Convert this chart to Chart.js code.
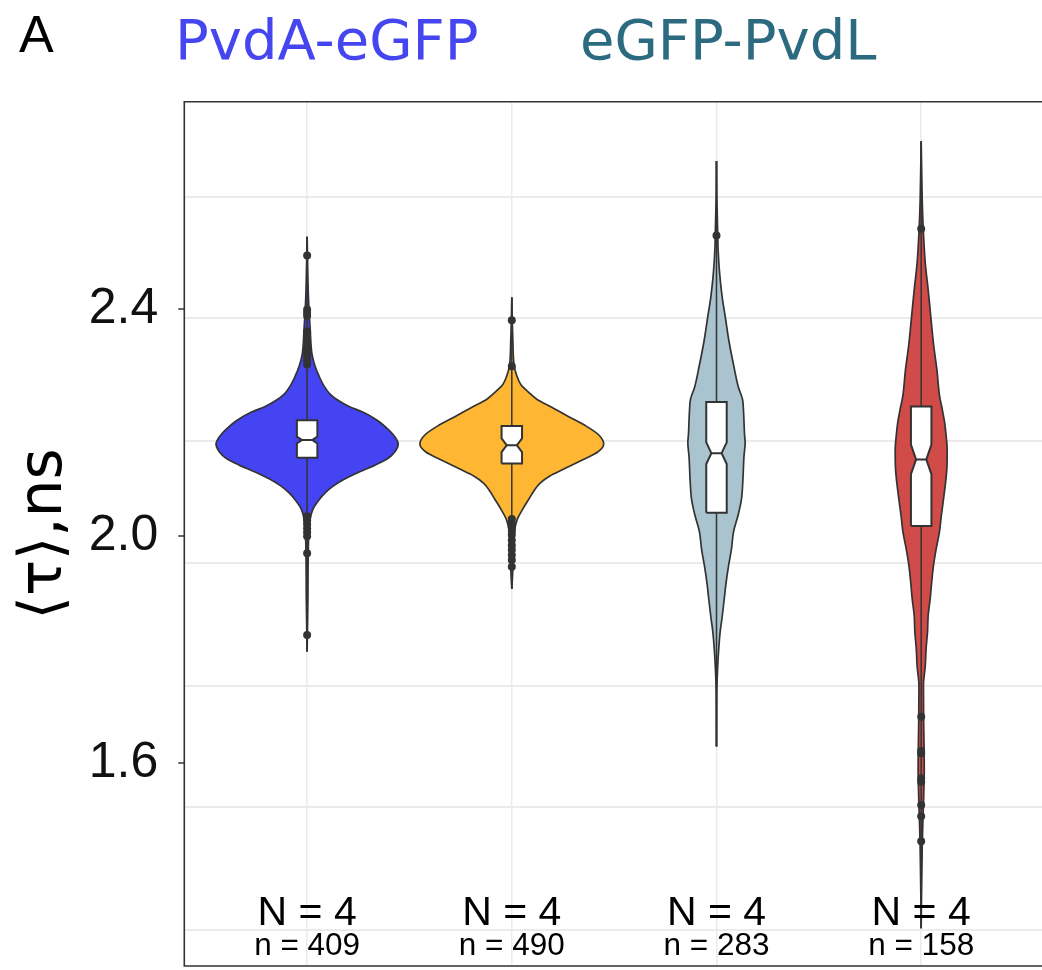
<!DOCTYPE html>
<html>
<head>
<meta charset="utf-8">
<script src="https://cdn.jsdelivr.net/npm/chart.js@4.4.1/dist/chart.umd.min.js"></script>
<style>
  html, body { margin: 0; padding: 0; background: #fff; overflow: hidden; }
  canvas { display: block; }
</style>
</head>
<body>
<canvas id="chart" width="1048" height="970"></canvas>
<script>
// groups on the x axis, left to right
const groups = ['PvdA-eGFP A', 'PvdA-eGFP B', 'eGFP-PvdL A', 'eGFP-PvdL B'];
const fillColors = ['#4444F2', '#FFB733', '#A9C4CE', '#D14B48'];
const groupN = ['N = 4', 'N = 4', 'N = 4', 'N = 4'];
const cellN = ['n = 409', 'n = 490', 'n = 283', 'n = 158'];

// y axis: labelled ticks and the (offset) grid lines
const tickLabels = [1.6, 2.0, 2.4];
const gridValues = [1.307, 1.523, 1.737, 1.953, 2.167, 2.383, 2.597];

// violin outlines: y levels (ns) and half widths (x units)
const v1Y = [1.797, 1.890, 1.995, 2.030, 2.048, 2.062, 2.076, 2.088, 2.100, 2.113, 2.125, 2.137, 2.149, 2.162, 2.174, 2.186, 2.204, 2.218, 2.228, 2.239, 2.250, 2.264, 2.281, 2.299, 2.320, 2.364, 2.416, 2.527];
const v1W = [0, 0.004, 0.007, 0.015, 0.029, 0.054, 0.088, 0.127, 0.181, 0.254, 0.332, 0.396, 0.430, 0.445, 0.430, 0.401, 0.342, 0.274, 0.205, 0.151, 0.112, 0.083, 0.059, 0.039, 0.024, 0.015, 0.007, 0];
const v2Y = [1.907, 1.934, 1.977, 2.013, 2.030, 2.048, 2.065, 2.079, 2.093, 2.106, 2.118, 2.132, 2.148, 2.162, 2.178, 2.195, 2.211, 2.227, 2.241, 2.253, 2.267, 2.285, 2.299, 2.346, 2.420];
const v2W = [0, 0.004, 0.007, 0.015, 0.027, 0.054, 0.083, 0.107, 0.137, 0.186, 0.254, 0.332, 0.420, 0.449, 0.425, 0.357, 0.274, 0.195, 0.122, 0.083, 0.044, 0.022, 0.012, 0.005, 0];
const v3Y = [1.630, 1.679, 1.732, 1.772, 1.802, 1.832, 1.856, 1.890, 1.916, 1.948, 1.977, 2.007, 2.039, 2.065, 2.099, 2.139, 2.165, 2.179, 2.220, 2.241, 2.262, 2.302, 2.343, 2.383, 2.423, 2.464, 2.504, 2.530, 2.592, 2.660];
const v3W = [0, 0.001, 0.002, 0.006, 0.011, 0.018, 0.027, 0.038, 0.046, 0.059, 0.073, 0.083, 0.107, 0.122, 0.129, 0.134, 0.140, 0.137, 0.132, 0.127, 0.107, 0.083, 0.061, 0.044, 0.027, 0.015, 0.008, 0.006, 0.002, 0];
const v4Y = [1.310, 1.363, 1.451, 1.495, 1.539, 1.591, 1.679, 1.737, 1.772, 1.802, 1.832, 1.860, 1.890, 1.918, 1.948, 1.977, 2.007, 2.035, 2.065, 2.104, 2.123, 2.151, 2.183, 2.199, 2.223, 2.246, 2.292, 2.339, 2.386, 2.434, 2.480, 2.541, 2.592, 2.695];
const v4W = [0, 0.0015, 0.005, 0.008, 0.012, 0.015, 0.012, 0.011, 0.020, 0.024, 0.031, 0.034, 0.044, 0.051, 0.060, 0.073, 0.089, 0.098, 0.109, 0.122, 0.126, 0.127, 0.120, 0.115, 0.103, 0.090, 0.077, 0.060, 0.047, 0.034, 0.020, 0.010, 0.005, 0];

// boxplots: [Q1, median, Q3, notch half span]
const v1Box = [2.138, 2.169, 2.204, 0.006];
const v2Box = [2.128, 2.160, 2.194, 0.012];
const v3Box = [2.041, 2.146, 2.236, 0.019];
const v4Box = [2.018, 2.135, 2.228, 0.026];

// outliers
const v1Out = [2.494, 2.399, 2.393, 2.388, 2.360, 2.351, 2.344, 2.337, 2.330, 2.323, 2.316, 2.309, 2.302, 2.035, 2.028, 2.021, 2.014, 2.007, 2.000, 1.970, 1.826];
const v2Out = [2.380, 2.299, 2.030, 2.023, 2.016, 2.009, 2.002, 1.993, 1.984, 1.976, 1.967, 1.958, 1.946];
const v3Out = [2.529];
const v4Out = [2.541, 1.682, 1.622, 1.618, 1.574, 1.568, 1.527, 1.507, 1.463];

const violins = [
  { y: v1Y, w: v1W, box: v1Box, out: v1Out },
  { y: v2Y, w: v2W, box: v2Box, out: v2Out },
  { y: v3Y, w: v3W, box: v3Box, out: v3Out },
  { y: v4Y, w: v4W, box: v4Box, out: v4Out }
];

const ink = '#333333';
const boxHalf = 0.05;

const datasets = [];
violins.forEach((v, i) => {
  const c = i + 1;
  const [q1, med, q3, nt] = v.box;
  // violin body: right edge, then left edge filled back to it
  datasets.push({
    data: v.y.map((yy, j) => ({ x: c + v.w[j], y: yy })),
    borderColor: ink, borderWidth: 1.7, pointRadius: 0, fill: false,
    cubicInterpolationMode: 'monotone', order: 10
  });
  datasets.push({
    data: v.y.map((yy, j) => ({ x: c - v.w[j], y: yy })),
    borderColor: ink, borderWidth: 1.7, pointRadius: 0, fill: '-1',
    backgroundColor: fillColors[i], cubicInterpolationMode: 'monotone', order: 10
  });
  // whisker line through the violin
  datasets.push({
    data: [{ x: c, y: v.y[0] }, { x: c, y: v.y[v.y.length - 1] }],
    borderColor: ink, borderWidth: 1.5, pointRadius: 0, fill: false, order: 8
  });
  // notched box, white fill
  const edge = s => [
    { x: c + s * boxHalf, y: q1 }, { x: c + s * boxHalf, y: med - nt },
    { x: c + s * boxHalf / 2, y: med },
    { x: c + s * boxHalf, y: med + nt }, { x: c + s * boxHalf, y: q3 }
  ];
  datasets.push({ data: edge(1), borderWidth: 0, borderColor: 'rgba(0,0,0,0)', pointRadius: 0, fill: false, order: 6 });
  datasets.push({ data: edge(-1), borderWidth: 0, borderColor: 'rgba(0,0,0,0)', pointRadius: 0, fill: '-1', backgroundColor: '#ffffff', order: 6 });
  datasets.push({
    data: [...edge(-1), ...edge(1).reverse(), edge(-1)[0]],
    borderColor: ink, borderWidth: 2, pointRadius: 0, fill: false, order: 5
  });
  datasets.push({
    data: [{ x: c - boxHalf / 2, y: med }, { x: c + boxHalf / 2, y: med }],
    borderColor: ink, borderWidth: 2, pointRadius: 0, fill: false, order: 5
  });
  // outlier points
  datasets.push({
    data: v.out.map(o => ({ x: c, y: o })),
    showLine: false, pointRadius: 4, pointBorderWidth: 0,
    pointBackgroundColor: ink, borderColor: ink, order: 1
  });
});

const isLabel = v => tickLabels.some(t => Math.abs(t - v) < 1e-6);

const decorations = {
  id: 'decorations',
  afterDatasetsDraw(chart) {
    const { ctx, chartArea: a, scales: { x, y } } = chart;
    ctx.save();
    // panel border (right side falls outside the picture)
    ctx.strokeStyle = ink;
    ctx.lineWidth = 1.6;
    ctx.beginPath();
    ctx.moveTo(a.right + 2, a.top);
    ctx.lineTo(a.left, a.top);
    ctx.lineTo(a.left, a.bottom);
    ctx.lineTo(a.right + 2, a.bottom);
    ctx.stroke();
    ctx.fillStyle = '#000';
    ctx.textAlign = 'center';
    ctx.textBaseline = 'alphabetic';
    groups.forEach((g, i) => {
      const px = x.getPixelForValue(i + 1);
      ctx.font = '41px "Liberation Sans"';
      ctx.fillText(groupN[i], px, y.getPixelForValue(1.3156));
      ctx.font = '31.5px "Liberation Sans"';
      ctx.fillText(cellN[i], px, y.getPixelForValue(1.263));
    });
    // panel letter and headers
    ctx.textAlign = 'left';
    ctx.font = '52px "Liberation Sans"';
    ctx.fillText('A', 19, 52);
    ctx.font = '56px "DejaVu Sans"';
    ctx.fillStyle = '#4646F0';
    ctx.fillText('PvdA-eGFP', 175, 59);
    ctx.fillStyle = '#2C6A80';
    ctx.fillText('eGFP-PvdL', 580, 59);
    ctx.restore();
  }
};

new Chart(document.getElementById('chart'), {
  type: 'line',
  data: { datasets },
  options: {
    responsive: false,
    animation: false,
    events: [],
    indexAxis: 'y',
    layout: { padding: { top: 101.7, right: 2, bottom: 0, left: 0 } },
    plugins: { legend: { display: false }, tooltip: { enabled: false } },
    scales: {
      x: {
        type: 'linear', min: 0.4, max: 4.6,
        afterBuildTicks: axis => { axis.ticks = groups.map((g, i) => ({ value: i + 1 })); },
        afterFit: axis => { axis.height = 2; },
        ticks: { display: false },
        grid: { color: '#ebebeb', lineWidth: 1.5, drawTicks: false },
        border: { display: false }
      },
      y: {
        type: 'linear', min: 1.2436, max: 2.7645,
        afterBuildTicks: axis => {
          axis.ticks = [...tickLabels, ...gridValues].sort((a, b) => a - b).map(v => ({ value: v }));
        },
        afterFit: axis => {
          axis.width = 184.3;
          axis.paddingTop = 0;
          axis.paddingBottom = 0;
        },
        ticks: {
          autoSkip: false,
          padding: 20,
          color: '#111',
          font: { family: 'Liberation Sans', size: 50 },
          callback: v => (isLabel(v) ? v.toFixed(1) : '')
        },
        grid: {
          color: ctx => (ctx.tick && isLabel(ctx.tick.value) ? 'rgba(0,0,0,0)' : '#ebebeb'),
          lineWidth: 2,
          tickLength: 6,
          tickWidth: 1.5,
          tickColor: ctx => (ctx.tick && isLabel(ctx.tick.value) ? ink : 'rgba(0,0,0,0)')
        },
        border: { display: false },
        title: {
          display: true,
          text: '⟨τ⟩,ns',
          color: '#000',
          font: { family: 'DejaVu Sans', size: 60 },
          padding: { top: 9, bottom: 0 }
        }
      }
    }
  },
  plugins: [decorations]
});
</script>
</body>
</html>
